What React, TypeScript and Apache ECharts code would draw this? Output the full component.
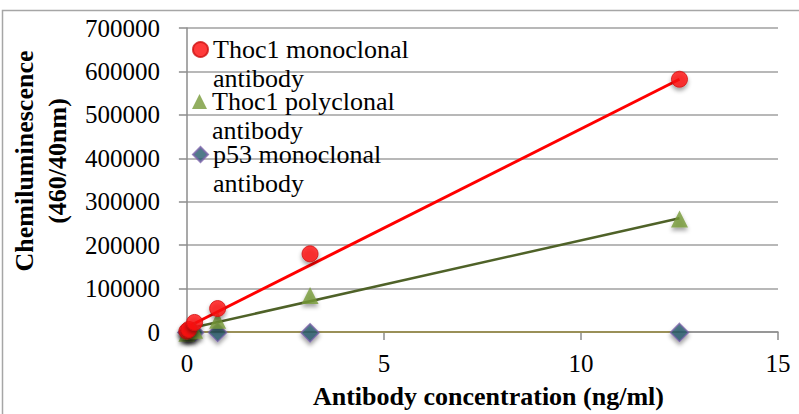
import React, { useEffect, useRef } from "react";
import * as echarts from "echarts";

const xConc = [0, 0.049, 0.195, 0.78, 3.125, 12.5];
const thocMono = [2000, 6000, 22000, 54000, 180000, 582000];
const thocPoly = [-3000, 1000, 4000, 27000, 84000, 260000];
const p53Mono = [-1000, -1000, -1000, -1000, -2000, -1000];

const trendX = [0, 12.5];
const trendMono = [11000, 582000];
const trendPoly = [7000, 262000];
const trendP53 = [0, 0];

const yTicks = [0, 100000, 200000, 300000, 400000, 500000, 600000, 700000];
const xTicks = [0, 5, 10, 15];

const seriesNames = ["Thoc1 monoclonal antibody", "Thoc1 polyclonal antibody", "p53 monoclonal antibody"];
const legendLines: Record<string, string> = {
  "Thoc1 monoclonal antibody": "Thoc1 monoclonal\nantibody",
  "Thoc1 polyclonal antibody": "Thoc1 polyclonal\nantibody",
  "p53 monoclonal antibody": "p53 monoclonal\nantibody",
};

const FONT = "Liberation Serif";
const LH = 29;

function pairs(xs: number[], ys: number[]) {
  return xs.map((x, i) => [x, ys[i]]);
}

export default function App() {
  const ref = useRef<HTMLDivElement>(null);
  useEffect(() => {
    document.body.style.margin = "0";
    if (!ref.current) return;
    const chart = echarts.init(ref.current, null, { renderer: "svg" });
    const shadow = { shadowBlur: 4, shadowColor: "rgba(0,0,0,0.45)", shadowOffsetY: 3 };
    const mkLegend = (name: string, top: number) => ({
      orient: "vertical",
      left: 192,
      top,
      padding: 0,
      itemWidth: 15,
      itemHeight: 15,
      itemGap: 0,
      data: [name],
      formatter: (n: string) => "{e| }\n{t|" + (legendLines[n] || n).split("\n").join("}\n{t|") + "}",
      textStyle: {
        fontFamily: FONT,
        fontSize: 26,
        color: "#000",
        lineHeight: LH,
        rich: {
          e: { fontFamily: FONT, fontSize: 26, lineHeight: LH },
          t: { fontFamily: FONT, fontSize: 26, lineHeight: LH, color: "#000" },
        },
      },
    });
    chart.setOption({
      animation: false,
      backgroundColor: "#fff",
      textStyle: { fontFamily: FONT },
      graphic: [
        {
          type: "rect",
          shape: { x: 2.5, y: 10.5, width: 820, height: 420 },
          style: { fill: "none", stroke: "#a6a6a6", lineWidth: 1.5 },
          silent: true,
          z: -10,
        },
      ],
      legend: [
        mkLegend(seriesNames[0], 6),
        mkLegend(seriesNames[1], 58),
        mkLegend(seriesNames[2], 111),
      ],
      grid: { left: 183, right: 21, top: 28, bottom: 78, containLabel: false },
      xAxis: {
        type: "value",
        min: xTicks[0],
        max: xTicks[xTicks.length - 1],
        interval: 5,
        name: "Antibody concentration (ng/ml)",
        nameLocation: "middle",
        nameGap: 51,
        nameTextStyle: { fontFamily: FONT, fontSize: 26, fontWeight: "bold", color: "#000", padding: [0, 0, 0, 12] },
        axisLine: { show: true, onZero: false, lineStyle: { color: "#8c8c8c", width: 1.5 } },
        axisTick: { show: true, length: 8, lineStyle: { color: "#8c8c8c", width: 1.5 } },
        axisLabel: { fontFamily: FONT, fontSize: 25, color: "#000", margin: 19, formatter: (v: number) => String(v) },
        splitLine: { show: false },
      },
      yAxis: {
        type: "value",
        min: yTicks[0],
        max: yTicks[yTicks.length - 1],
        interval: 100000,
        name: "Chemiluminescence\n(460/40nm)",
        nameLocation: "middle",
        nameRotate: 90,
        nameGap: 104,
        nameTextStyle: {
          fontFamily: FONT,
          fontSize: 26,
          fontWeight: "bold",
          color: "#000",
          lineHeight: 33,
          padding: [0, 0, 0, 38],
        },
        axisLine: { show: true, lineStyle: { color: "#8c8c8c", width: 1.5 } },
        axisTick: { show: true, length: 8, lineStyle: { color: "#8c8c8c", width: 1.5 } },
        axisLabel: { fontFamily: FONT, fontSize: 25, color: "#000", margin: 27, formatter: (v: number) => String(v) },
        splitLine: { show: true, lineStyle: { color: "#a0a0a0", width: 1.5 } },
      },
      series: [
        {
          name: "trend p53",
          type: "line",
          data: pairs(trendX, trendP53),
          showSymbol: false,
          clip: false,
          lineStyle: { color: "#9a9058", width: 2 },
          z: 3,
        },
        {
          name: "trend poly",
          type: "line",
          data: pairs(trendX, trendPoly),
          showSymbol: false,
          lineStyle: { color: "#4f6228", width: 2.5 },
          z: 3,
        },
        {
          name: "trend mono",
          type: "line",
          data: pairs(trendX, trendMono),
          showSymbol: false,
          lineStyle: { color: "#ff0000", width: 3 },
          z: 3,
        },
        {
          name: seriesNames[2],
          type: "scatter",
          data: pairs(xConc, p53Mono),
          symbol: "diamond",
          symbolSize: 18,
          clip: false,
          itemStyle: { color: "#245a6c", borderColor: "#7b64aa", borderWidth: 1.5, ...shadow },
          z: 4,
        },
        {
          name: seriesNames[1],
          type: "scatter",
          data: pairs(xConc, thocPoly),
          symbol: "triangle",
          symbolSize: 17,
          clip: false,
          itemStyle: { color: "#779a38", ...shadow },
          z: 4,
        },
        {
          name: seriesNames[0],
          type: "scatter",
          data: pairs(xConc, thocMono),
          symbol: "circle",
          symbolSize: 16,
          clip: false,
          itemStyle: { color: "#ff0a0a", borderColor: "#d01010", borderWidth: 1, ...shadow },
          z: 4,
        },
      ],
    });
    return () => chart.dispose();
  }, []);
  return <div ref={ref} style={{ width: 799, height: 414 }} />;
}
